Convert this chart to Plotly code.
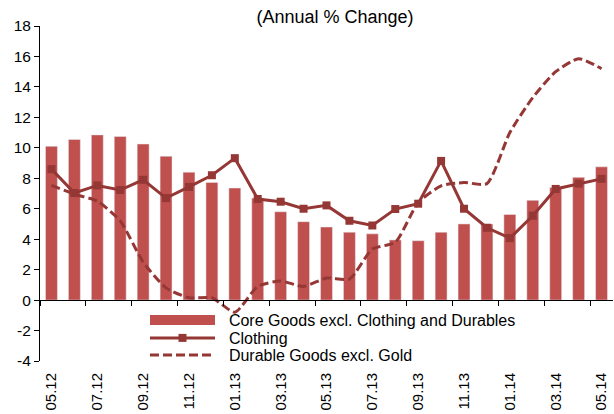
import plotly.graph_objects as go

months = ["05.12","06.12","07.12","08.12","09.12","10.12","11.12","12.12",
          "01.13","02.13","03.13","04.13","05.13","06.13","07.13","08.13",
          "09.13","10.13","11.13","12.13","01.14","02.14","03.14","04.14","05.14"]
core_goods = [10.1, 10.55, 10.85, 10.75, 10.25, 9.45, 8.4, 7.73, 7.36, 6.7, 5.8, 5.15,
              4.8, 4.46, 4.35, 3.95, 3.9, 4.46, 5.0, 5.0, 5.62, 6.55, 7.4, 8.06, 8.75]
clothing = [8.6, 7.03, 7.53, 7.23, 7.9, 6.7, 7.43, 8.2, 9.32, 6.64, 6.46, 6.0,
            6.22, 5.21, 4.9, 5.98, 6.33, 9.14, 6.0, 4.75, 4.07, 5.54, 7.3, 7.65, 7.96]
durable = [7.53, 6.96, 6.5, 5.2, 2.5, 0.8, 0.15, 0.15, -0.8, 0.9, 1.25, 0.9,
           1.45, 1.38, 3.35, 3.8, 6.4, 7.5, 7.72, 7.65, 11.0, 13.3, 15.0, 15.85, 15.2]
tick_labels = months[::2]
y_ticks = list(range(-4, 19, 2))
y_tick_text = [str(v) for v in y_ticks]

BAR = "#C0504D"
LINE = "#953735"
FONT = "Liberation Sans, Arial, sans-serif"
PAD = "\u00a0\u00a0"

idx = list(range(len(months)))

fig = go.Figure()
fig.add_trace(go.Bar(x=idx, y=core_goods, marker_color=BAR, width=0.52,
                     showlegend=False, name="Core Goods excl. Clothing and Durables"))
fig.add_trace(go.Scatter(x=idx, y=durable, mode="lines", line=dict(color=LINE, width=3, dash="9px,4px", shape="spline", smoothing=0.6),
                         showlegend=False, name="Durable Goods excl. Gold"))
fig.add_trace(go.Scatter(x=idx, y=clothing, mode="lines+markers", line=dict(color=LINE, width=3),
                         marker=dict(symbol="square", size=8, color=LINE),
                         showlegend=False, name="Clothing"))

# legend proxies
fig.add_trace(go.Scatter(x=[None], y=[None], xaxis="x2", mode="lines", line=dict(color=BAR, width=10),
                         name=PAD + "Core Goods excl. Clothing and Durables", legend="legend"))
fig.add_trace(go.Scatter(x=[None], y=[None], xaxis="x2", mode="lines+markers", line=dict(color=LINE, width=3),
                         marker=dict(symbol="square", size=8, color=LINE),
                         name=PAD + "Clothing", legend="legend2"))
fig.add_trace(go.Scatter(x=[None], y=[None], xaxis="x2", mode="lines", line=dict(color=LINE, width=3, dash="9px,4px"),
                         name=PAD + "Durable Goods excl. Gold", legend="legend3"))

def px_x(p):
    return (p - 40) / 573.0

def px_y(p):
    return (361 - p) / 335.0

leg_common = dict(xanchor="left", yanchor="middle", bgcolor="rgba(0,0,0,0)",
                  font=dict(family=FONT, size=16, color="black"), itemwidth=65,
                  borderwidth=0)

fig.update_layout(
    width=614, height=414,
    margin=dict(l=40, r=1, t=26, b=53, autoexpand=False),
    paper_bgcolor="white", plot_bgcolor="white",
    font=dict(family=FONT, size=15, color="black"),
    title=dict(text="(Annual % Change)", x=335/614, xref="container", xanchor="center",
               y=1 - 17/414, yref="container", yanchor="middle",
               font=dict(family=FONT, size=18, color="black")),
    bargap=0.48,
    xaxis=dict(range=[-0.5, 24.5], tickmode="array", tickvals=idx[::2], ticktext=tick_labels,
               tickangle=-90, showline=False, ticks="", showgrid=False, zeroline=False,
               automargin=False, ticklabelstandoff=8, tickfont=dict(family=FONT, size=15)),
    xaxis2=dict(range=[-0.5, 24.5], overlaying="x", anchor="free", position=4/22,
                tickmode="array", tickvals=[i - 0.5 for i in range(0, 25, 2)],
                showticklabels=False, ticks="outside", ticklen=5, tickcolor="black",
                showline=True, linecolor="black", linewidth=1, showgrid=False, zeroline=False,
                automargin=False),
    yaxis=dict(range=[-4, 18], tickmode="array", tickvals=y_ticks, ticktext=y_tick_text,
               showline=True, linecolor="black", linewidth=1, automargin=False,
               ticks="outside", ticklen=5, tickcolor="black", showgrid=False, zeroline=False,
               tickfont=dict(family=FONT, size=15.5)),
    legend=dict(x=px_x(145), y=px_y(320), **leg_common),
    legend2=dict(x=px_x(145), y=px_y(338), **leg_common),
    legend3=dict(x=px_x(145), y=px_y(355), **leg_common),
)

fig.write_html("out.html", config={"displayModeBar": False, "staticPlot": True},
               post_script="document.body.style.margin='0';document.body.style.overflow='hidden';")
